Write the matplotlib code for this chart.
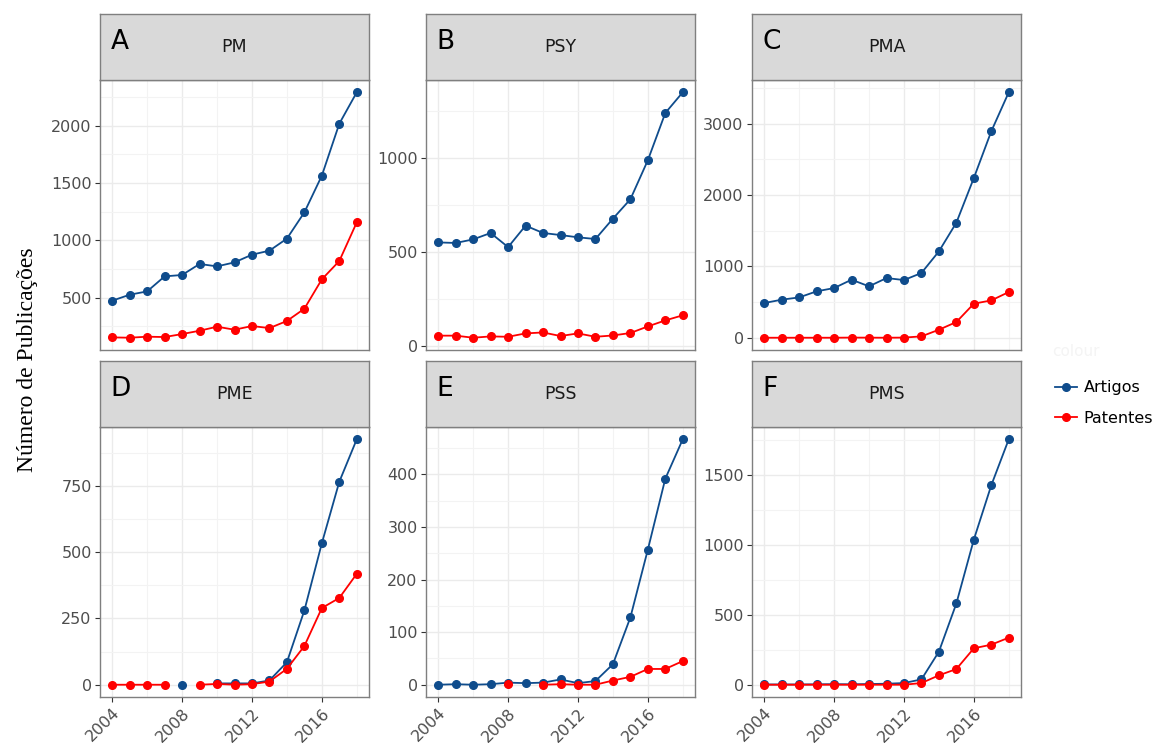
"""
Recreates the six-panel publications chart (Artigos vs Patentes, 2004-2018).
"""

import numpy as np
import matplotlib
matplotlib.use("Agg")
import matplotlib.pyplot as plt
from matplotlib.ticker import MultipleLocator
from matplotlib.lines import Line2D

nan = np.nan

years = list(range(2004, 2019))

panel_letters = ["A", "B", "C", "D", "E", "F"]
panel_names = ["PM", "PSY", "PMA", "PME", "PSS", "PMS"]

# ── data ────────────────────────────────────────────────────────────────────
artigos_pm = [474, 526, 555, 686, 698, 794, 773, 808, 875, 910, 1015, 1244, 1564, 2017, 2291]
patentes_pm = [154, 151, 160, 157, 183, 212, 247, 221, 253, 235, 297, 404, 660, 820, 1157]

artigos_psy = [552, 549, 568, 602, 527, 641, 602, 591, 579, 570, 678, 781, 988, 1239, 1349]
patentes_psy = [57, 57, 46, 53, 51, 69, 74, 55, 69, 51, 58, 71, 106, 138, 165]

artigos_pma = [486, 533, 565, 650, 696, 813, 720, 836, 808, 907, 1210, 1612, 2238, 2893, 3439]
patentes_pma = [0, 0, 0, 0, 0, 2, 1, 0, 2, 19, 112, 220, 477, 523, 640]

artigos_pme = [nan, nan, nan, nan, 0, nan, 5, 5, 5, 16, 85, 280, 533, 765, 925]
patentes_pme = [0, 0, 0, 0, nan, 0, 3, 0, 2, 12, 60, 146, 289, 327, 418]

artigos_pss = [0, 1, 0, 1, 4, 3, 4, 10, 3, 7, 39, 128, 257, 392, 467]
patentes_pss = [nan, nan, nan, nan, 1, nan, 0, 1, 0, 0, 8, 15, 30, 30, 45]

artigos_pms = [2, 2, 2, 3, 4, 3, 5, 7, 12, 38, 236, 580, 1036, 1424, 1752]
patentes_pms = [0, 0, 0, 0, 0, 0, 0, 0, 0, 12, 67, 112, 260, 286, 336]

artigos = [artigos_pm, artigos_psy, artigos_pma, artigos_pme, artigos_pss, artigos_pms]
patentes = [patentes_pm, patentes_psy, patentes_pma, patentes_pme, patentes_pss, patentes_pms]
y_steps = [500, 500, 1000, 250, 100, 500]

BLUE = "#0F4C8C"
RED = "#FF0000"
GRID = "#EBEBEB"
GRID_MINOR = "#F3F3F3"
BORDER = "#7F7F7F"
TICK_TXT = "#4D4D4D"

W, H = 1155, 743
fig = plt.figure(figsize=(W / 100, H / 100), dpi=100, facecolor="white")


def rect(x0, y0, x1, y1):
    # pixel box (top-left origin) -> figure fraction
    return [x0 / W, 1 - y1 / H, (x1 - x0) / W, (y1 - y0) / H]


col_x = [(100, 369), (426, 695), (752, 1021)]
row_y = [(14, 80, 350), (361, 427, 697)]

for i in range(6):
    r, c = divmod(i, 3)
    x0, x1 = col_x[c]
    s0, s1, p1 = row_y[r]

    ax = fig.add_axes(rect(x0, s1, x1, p1))
    ax.set_facecolor("white")
    ax.plot(years, artigos[i], "-o", color=BLUE, lw=1.3, ms=5.5, zorder=3)
    ax.plot(years, patentes[i], "-o", color=RED, lw=1.3, ms=5.5, zorder=4)
    ax.margins(x=0.05, y=0.05)

    ax.xaxis.set_major_locator(MultipleLocator(4))
    ax.xaxis.set_minor_locator(MultipleLocator(2))
    ax.yaxis.set_major_locator(MultipleLocator(y_steps[i]))
    ax.yaxis.set_minor_locator(MultipleLocator(y_steps[i] / 2))
    ax.grid(which="major", color=GRID, lw=1.0, zorder=0)
    ax.grid(which="minor", color=GRID_MINOR, lw=0.8, zorder=0)
    ax.set_axisbelow(True)
    for sp in ax.spines.values():
        sp.set_color(BORDER)
        sp.set_linewidth(1.0)
    ax.tick_params(which="minor", length=0)
    ax.tick_params(which="major", length=3.5, color="#333333", width=0.8,
                   labelsize=11.5, labelcolor=TICK_TXT, pad=2.5)
    if r == 0:
        ax.tick_params(axis="x", which="major", length=0, labelbottom=False)
    else:
        for lab in ax.get_xticklabels():
            lab.set_rotation(45)
            lab.set_ha("right")
            lab.set_rotation_mode("anchor")

    # facet strip
    sx = fig.add_axes(rect(x0, s0, x1, s1))
    sx.set_facecolor("#D9D9D9")
    sx.set_xticks([])
    sx.set_yticks([])
    for sp in sx.spines.values():
        sp.set_color(BORDER)
        sp.set_linewidth(1.0)
    sx.text(0.5, 0.5, panel_names[i], ha="center", va="center",
            fontsize=12.5, color="#1A1A1A", transform=sx.transAxes)
    sx.text(0.04, 0.57, panel_letters[i], ha="left", va="center",
            fontsize=19, color="black", transform=sx.transAxes)

fig.text(28 / W, 1 - 360 / H, "Número de Publicações", rotation=90,
         ha="center", va="center", fontsize=17, family="Liberation Serif")

# legend
fig.text(1052 / W, 1 - 352 / H, "colour", fontsize=11, color="#F4F4F4",
         ha="left", va="center")
handles = [Line2D([], [], color=BLUE, marker="o", lw=1.3, ms=5.5),
           Line2D([], [], color=RED, marker="o", lw=1.3, ms=5.5)]
fig.legend(handles, ["Artigos", "Patentes"], loc="center left",
           bbox_to_anchor=(1055 / W, 1 - 403 / H), frameon=False,
           fontsize=11.5, handlelength=1.4, handletextpad=0.4,
           labelspacing=0.95, borderaxespad=0, borderpad=0)

fig.savefig("out.png", dpi=100, facecolor="white")
